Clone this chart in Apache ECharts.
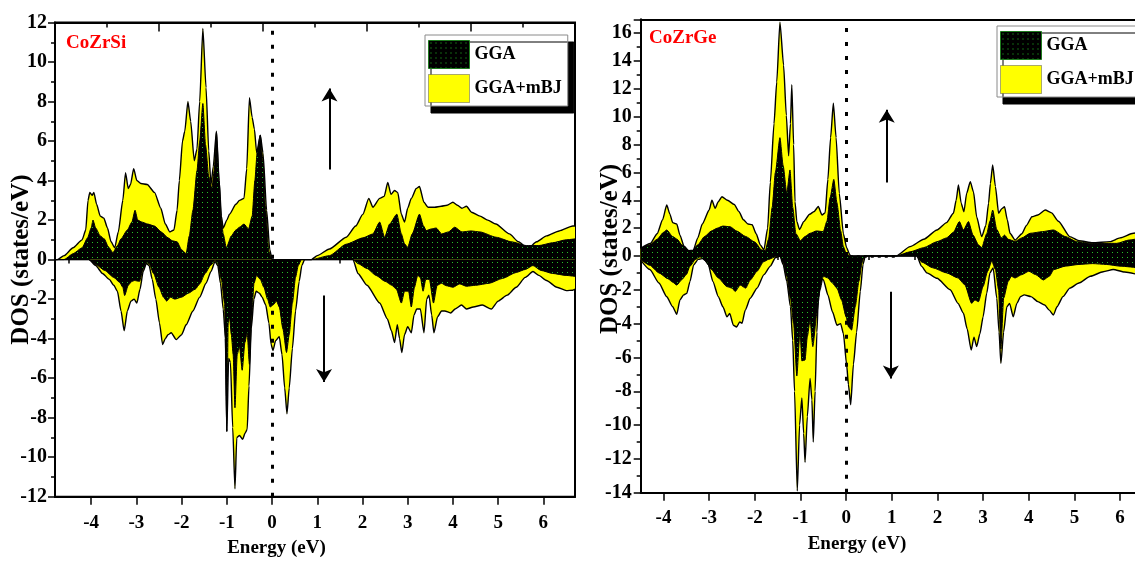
<!DOCTYPE html>
<html>
<head>
<meta charset="utf-8">
<title>CoZrSi / CoZrGe spin-polarised DOS</title>
<script src="https://cdn.jsdelivr.net/npm/echarts@6/dist/echarts.min.js"></script>
<style>
  html, body { margin: 0; padding: 0; background: #fff; }
  #chart { width: 1135px; height: 562px; }
</style>
</head>
<body>
<div id="chart"></div>
<script>
// ---------------- data ----------------
const materials = ['CoZrSi', 'CoZrGe'];
const methods = ['GGA', 'GGA+mBJ'];

const energyTicks = [-4, -3, -2, -1, 0, 1, 2, 3, 4, 5, 6];
const energyMinorSi = [-4.5, -3.5, -2.5, -1.5, -0.5, 0.5, 1.5, 2.5, 3.5, 4.5, 5.5, 6.5];
const energyMinorGe = [-3.5, -2.5, -1.5, -0.5, 0.5, 1.5, 2.5, 3.5, 4.5, 5.5];

// CoZrSi, spin up  [energy (eV), DOS (states/eV)]
const siUpMBJ = [[-4.8,0],[-4.75,0],[-4.6,0.2],[-4.4,0.6],[-4.2,1.0],[-4.12,1.5],[-4.07,3.0],[-4.03,3.4],[-3.98,3.25],[-3.94,3.4],[-3.88,2.8],[-3.8,2.2],[-3.72,2.1],[-3.64,1.6],[-3.56,0.9],[-3.48,0.6],[-3.4,1.4],[-3.3,3.0],[-3.24,4.4],[-3.18,3.6],[-3.13,3.8],[-3.06,4.6],[-2.99,4.0],[-2.9,3.85],[-2.76,3.8],[-2.6,3.4],[-2.46,2.6],[-2.36,1.8],[-2.26,1.4],[-2.17,1.5],[-2.1,2.5],[-2.05,4.0],[-1.98,6.0],[-1.93,6.5],[-1.86,8.0],[-1.8,7.0],[-1.72,5.0],[-1.66,5.6],[-1.6,8.0],[-1.53,11.7],[-1.46,8.7],[-1.4,5.5],[-1.35,3.8],[-1.3,4.7],[-1.23,6.5],[-1.17,4.0],[-1.12,2.2],[-1.08,1.6],[-1.0,2.0],[-0.94,2.3],[-0.8,2.8],[-0.72,3.0],[-0.62,3.1],[-0.56,4.6],[-0.5,8.2],[-0.44,7.2],[-0.39,6.6],[-0.34,5.4],[-0.26,6.3],[-0.2,5.4],[-0.12,2.5],[-0.05,0.5],[0,0],[0.87,0],[1.0,0.2],[1.27,0.54],[1.64,1.13],[1.85,1.7],[2.01,2.3],[2.14,3.1],[2.23,2.65],[2.38,3.1],[2.48,3.2],[2.56,3.9],[2.63,3.3],[2.71,3.5],[2.78,3.4],[2.86,2.3],[2.93,1.9],[3.0,2.6],[3.08,3.1],[3.19,3.6],[3.26,3.7],[3.36,2.9],[3.45,2.65],[3.6,2.65],[3.74,2.7],[3.87,2.75],[4.0,2.9],[4.1,2.75],[4.2,2.6],[4.3,2.7],[4.41,2.4],[4.6,2.2],[4.77,2.0],[4.95,1.8],[5.25,1.3],[5.45,0.9],[5.66,0.55],[5.85,0.9],[6.07,1.2],[6.35,1.45],[6.65,1.7],[6.7,1.7]];
const siUpGGA = [[-4.8,0],[-4.6,0],[-4.4,0.3],[-4.2,0.6],[-4.08,1.1],[-4.0,1.6],[-3.96,2.0],[-3.9,1.6],[-3.8,1.2],[-3.71,1.05],[-3.62,0.65],[-3.52,0.35],[-3.42,0.7],[-3.34,1.05],[-3.2,1.5],[-3.1,1.9],[-3.03,2.5],[-2.97,2.0],[-2.88,1.9],[-2.75,1.8],[-2.6,1.7],[-2.45,1.4],[-2.3,1.1],[-2.2,0.95],[-2.1,0.9],[-2.0,0.5],[-1.9,0.3],[-1.83,1.2],[-1.75,2.5],[-1.66,4.5],[-1.6,6.0],[-1.53,7.9],[-1.47,5.8],[-1.4,4.2],[-1.33,3.6],[-1.28,4.5],[-1.23,6.45],[-1.17,4.0],[-1.12,2.0],[-1.08,1.3],[-1.01,0.6],[-0.9,1.2],[-0.8,1.5],[-0.72,1.64],[-0.62,1.8],[-0.52,1.55],[-0.44,2.2],[-0.38,4.0],[-0.33,5.4],[-0.26,6.3],[-0.2,5.0],[-0.14,2.5],[-0.07,0.4],[0,0],[0.87,0],[1.27,0.2],[1.64,0.78],[2.01,1.1],[2.23,1.3],[2.38,1.9],[2.49,1.13],[2.6,1.8],[2.76,2.3],[2.86,1.3],[2.93,0.8],[3.0,0.62],[3.1,1.3],[3.26,2.3],[3.35,1.7],[3.41,1.47],[3.52,1.55],[3.63,1.6],[3.75,1.3],[3.9,1.4],[4.04,1.64],[4.2,1.4],[4.4,1.45],[4.6,1.4],[4.96,1.13],[5.3,0.9],[5.62,0.71],[5.9,0.71],[6.2,0.85],[6.5,1.0],[6.7,1.05]];

// CoZrSi, spin down
const siDownMBJ = [[-4.8,0],[-4.05,0],[-3.9,-0.3],[-3.75,-0.7],[-3.6,-1.0],[-3.5,-1.3],[-3.42,-1.6],[-3.34,-2.6],[-3.27,-3.6],[-3.2,-2.6],[-3.12,-2.1],[-3.05,-2.0],[-2.99,-2.2],[-2.92,-1.5],[-2.85,-0.6],[-2.78,-0.2],[-2.72,-0.3],[-2.65,-1.0],[-2.57,-2.0],[-2.49,-3.2],[-2.42,-4.3],[-2.36,-4.0],[-2.3,-3.8],[-2.23,-3.7],[-2.12,-4.05],[-2.0,-3.8],[-1.9,-3.3],[-1.75,-2.6],[-1.6,-1.9],[-1.46,-1.2],[-1.35,-0.6],[-1.26,-0.1],[-1.2,-0.3],[-1.14,-1.2],[-1.08,-2.5],[-1.03,-4.0],[-1.0,-8.7],[-0.96,-5.0],[-0.92,-5.2],[-0.87,-8.5],[-0.82,-11.6],[-0.78,-9.0],[-0.72,-8.9],[-0.65,-9.1],[-0.6,-8.8],[-0.55,-8.6],[-0.51,-6.4],[-0.46,-3.5],[-0.4,-2.0],[-0.35,-1.6],[-0.28,-1.7],[-0.22,-1.9],[-0.14,-2.3],[-0.07,-3.2],[-0.02,-4.3],[0.02,-4.6],[0.08,-4.1],[0.16,-3.9],[0.22,-4.8],[0.28,-6.5],[0.33,-7.8],[0.38,-6.5],[0.45,-4.5],[0.52,-2.6],[0.6,-1.1],[0.66,-0.3],[0.72,0],[1.79,0],[1.9,-0.7],[2.1,-1.3],[2.38,-2.2],[2.55,-3.0],[2.64,-3.6],[2.71,-4.2],[2.77,-3.3],[2.82,-4.0],[2.87,-4.7],[2.93,-3.8],[3.0,-3.4],[3.08,-3.7],[3.14,-2.8],[3.2,-2.5],[3.28,-2.5],[3.36,-3.7],[3.42,-2.0],[3.47,-1.8],[3.53,-2.8],[3.58,-3.7],[3.66,-2.9],[3.75,-2.6],[3.82,-2.6],[3.95,-2.7],[4.05,-2.5],[4.19,-2.3],[4.3,-2.5],[4.45,-2.4],[4.65,-2.3],[4.85,-2.5],[5.0,-2.1],[5.2,-1.8],[5.4,-1.4],[5.6,-0.9],[5.77,-0.6],[5.9,-0.8],[6.07,-1.06],[6.3,-1.4],[6.51,-1.57],[6.65,-1.55],[6.7,-1.5]];
const siDownGGA = [[-4.8,0],[-4.05,0],[-3.9,-0.25],[-3.7,-0.55],[-3.5,-0.9],[-3.37,-1.15],[-3.3,-1.4],[-3.26,-1.82],[-3.18,-1.3],[-3.1,-1.1],[-3.04,-1.06],[-2.93,-1.1],[-2.85,-0.5],[-2.78,-0.15],[-2.72,-0.2],[-2.62,-0.7],[-2.5,-1.4],[-2.4,-1.9],[-2.33,-2.1],[-2.25,-1.9],[-2.15,-2.0],[-2.0,-1.9],[-1.85,-1.7],[-1.7,-1.5],[-1.6,-1.23],[-1.48,-0.7],[-1.36,-0.3],[-1.26,-0.05],[-1.2,-0.2],[-1.12,-1.0],[-1.05,-2.2],[-1.0,-8.7],[-0.97,-3.2],[-0.94,-2.9],[-0.9,-3.8],[-0.86,-4.8],[-0.82,-7.5],[-0.77,-4.8],[-0.72,-4.4],[-0.66,-5.6],[-0.6,-4.2],[-0.55,-3.7],[-0.5,-5.3],[-0.45,-3.0],[-0.4,-1.2],[-0.34,-0.8],[-0.26,-1.0],[-0.18,-1.4],[-0.1,-2.0],[-0.04,-2.4],[0.02,-2.3],[0.1,-2.1],[0.16,-2.4],[0.24,-3.5],[0.32,-4.7],[0.38,-3.8],[0.45,-2.2],[0.52,-0.9],[0.58,-0.3],[0.65,0],[1.79,0],[1.9,-0.2],[2.1,-0.45],[2.3,-0.8],[2.5,-1.1],[2.65,-1.3],[2.75,-1.5],[2.86,-2.2],[2.93,-1.6],[3.02,-1.6],[3.08,-2.4],[3.15,-1.4],[3.22,-0.8],[3.28,-0.9],[3.34,-1.6],[3.4,-1.0],[3.48,-1.0],[3.57,-2.2],[3.65,-1.3],[3.75,-1.2],[3.85,-1.32],[4.0,-1.4],[4.15,-1.23],[4.3,-1.35],[4.5,-1.3],[4.8,-1.2],[5.1,-0.95],[5.4,-0.65],[5.6,-0.5],[5.77,-0.3],[5.95,-0.55],[6.2,-0.7],[6.5,-0.8],[6.7,-0.85]];

// CoZrGe, spin up
const geUpMBJ = [[-4.5,0.55],[-4.29,0.9],[-4.14,1.6],[-4.02,2.6],[-3.93,3.66],[-3.86,3.0],[-3.8,2.4],[-3.71,2.3],[-3.64,1.5],[-3.55,0.7],[-3.45,0.38],[-3.35,0.4],[-3.25,1.3],[-3.15,2.3],[-3.0,3.3],[-2.94,4.0],[-2.87,3.43],[-2.8,3.9],[-2.72,4.26],[-2.6,4.0],[-2.45,3.7],[-2.35,3.2],[-2.25,2.6],[-2.15,2.3],[-2.06,2.25],[-1.97,1.6],[-1.88,0.8],[-1.8,0.45],[-1.72,2.0],[-1.66,5.3],[-1.58,9.5],[-1.52,12.5],[-1.45,16.8],[-1.37,13.7],[-1.31,10.1],[-1.26,7.2],[-1.22,9.5],[-1.19,12.3],[-1.15,8.0],[-1.12,3.9],[-1.08,2.47],[-1.02,1.9],[-0.93,2.47],[-0.8,3.0],[-0.7,3.2],[-0.61,3.55],[-0.53,2.95],[-0.46,3.1],[-0.4,5.5],[-0.34,8.5],[-0.28,10.97],[-0.22,8.5],[-0.15,4.5],[-0.06,1.6],[0.01,0.6],[0.08,0.1],[0.1,0],[1.1,0],[1.4,0.67],[1.7,1.2],[1.99,1.87],[2.2,2.4],[2.35,3.07],[2.41,4.0],[2.46,5.1],[2.52,3.8],[2.58,3.18],[2.64,4.5],[2.72,5.34],[2.79,4.6],[2.86,2.8],[2.97,1.39],[3.06,2.2],[3.12,3.8],[3.16,5.2],[3.21,6.54],[3.27,5.0],[3.34,3.07],[3.41,3.4],[3.47,3.54],[3.53,2.6],[3.59,1.63],[3.7,1.15],[3.85,1.6],[3.95,2.2],[4.07,2.82],[4.2,2.95],[4.36,3.3],[4.5,3.1],[4.65,2.5],[4.9,1.39],[5.1,1.1],[5.4,0.95],[5.78,1.03],[6.0,1.3],[6.29,1.63],[6.4,1.7]];
const geUpGGA = [[-4.5,0.55],[-4.3,0.8],[-4.14,1.2],[-4.0,1.7],[-3.93,1.87],[-3.8,1.4],[-3.7,1.2],[-3.6,0.8],[-3.45,0.4],[-3.38,0.35],[-3.25,0.8],[-3.1,1.4],[-2.95,1.8],[-2.83,1.99],[-2.7,2.15],[-2.54,2.1],[-2.4,1.8],[-2.2,1.4],[-2.0,1.0],[-1.85,0.43],[-1.77,0.38],[-1.7,1.2],[-1.62,3.5],[-1.55,6.0],[-1.45,8.5],[-1.38,6.5],[-1.3,4.5],[-1.23,6.18],[-1.17,3.5],[-1.1,1.6],[-1.0,1.1],[-0.9,1.4],[-0.79,1.63],[-0.65,1.8],[-0.5,1.75],[-0.42,2.5],[-0.35,4.2],[-0.27,5.5],[-0.2,3.8],[-0.12,1.8],[-0.06,0.67],[0.0,0.2],[0.08,0],[1.1,0],[1.4,0.3],[1.7,0.6],[1.99,1.03],[2.2,1.3],[2.35,1.7],[2.48,2.47],[2.57,1.87],[2.68,2.47],[2.78,1.5],[2.9,0.79],[2.97,0.6],[3.08,1.6],[3.15,2.5],[3.21,3.3],[3.3,1.9],[3.4,1.3],[3.47,1.5],[3.55,1.2],[3.7,1.05],[3.85,1.3],[4.03,1.63],[4.3,1.75],[4.54,1.87],[4.8,1.4],[5.05,1.03],[5.4,0.9],[5.93,0.91],[6.2,1.15],[6.4,1.25]];

// CoZrGe, spin down
const geDownMBJ = [[-4.5,-0.24],[-4.3,-0.8],[-4.1,-1.6],[-3.93,-2.41],[-3.8,-3.0],[-3.71,-3.45],[-3.64,-2.6],[-3.56,-2.3],[-3.49,-2.21],[-3.42,-1.5],[-3.34,-0.53],[-3.24,-0.2],[-3.12,-0.14],[-3.02,-0.5],[-2.92,-1.5],[-2.8,-2.4],[-2.7,-3.0],[-2.61,-3.6],[-2.55,-3.4],[-2.47,-4.1],[-2.4,-4.2],[-2.33,-3.9],[-2.28,-3.98],[-2.21,-3.2],[-2.1,-2.5],[-1.95,-1.9],[-1.8,-1.1],[-1.66,-0.6],[-1.55,-0.1],[-1.45,0],[-1.38,-0.5],[-1.3,-1.5],[-1.22,-3.0],[-1.17,-5.0],[-1.13,-8.0],[-1.07,-13.9],[-1.02,-10.0],[-0.97,-8.4],[-0.93,-10.5],[-0.9,-12.2],[-0.85,-9.5],[-0.79,-7.24],[-0.75,-8.5],[-0.72,-11.0],[-0.68,-8.0],[-0.64,-4.5],[-0.61,-2.5],[-0.55,-1.4],[-0.5,-1.4],[-0.4,-2.3],[-0.3,-3.3],[-0.2,-4.1],[-0.12,-4.0],[-0.06,-4.6],[0.01,-6.4],[0.05,-7.6],[0.1,-8.8],[0.16,-6.4],[0.23,-4.5],[0.31,-2.1],[0.37,-0.5],[0.42,0],[1.55,0],[1.65,-0.6],[1.77,-1.0],[1.99,-1.32],[2.28,-2.0],[2.45,-2.8],[2.57,-3.39],[2.65,-4.3],[2.74,-5.56],[2.8,-4.8],[2.86,-5.36],[2.93,-4.6],[3.0,-3.6],[3.08,-2.2],[3.15,-1.0],[3.22,-0.7],[3.3,-2.5],[3.35,-4.5],[3.39,-6.35],[3.45,-4.5],[3.52,-3.0],[3.58,-2.8],[3.66,-3.59],[3.74,-2.8],[3.82,-2.4],[3.9,-2.3],[4.05,-2.4],[4.2,-2.7],[4.35,-2.9],[4.45,-3.2],[4.54,-3.49],[4.62,-3.0],[4.75,-2.4],[4.9,-1.9],[5.1,-1.6],[5.35,-1.2],[5.63,-0.93],[5.85,-0.8],[6.1,-0.95],[6.4,-1.1]];
const geDownGGA = [[-4.5,-0.2],[-4.3,-0.55],[-4.1,-1.0],[-3.9,-1.35],[-3.8,-1.55],[-3.71,-1.72],[-3.6,-1.4],[-3.5,-1.1],[-3.42,-0.6],[-3.3,-0.2],[-3.2,-0.05],[-3.08,-0.3],[-2.95,-0.8],[-2.8,-1.3],[-2.61,-1.81],[-2.5,-1.9],[-2.43,-2.1],[-2.32,-1.72],[-2.2,-1.9],[-2.1,-1.42],[-1.95,-0.9],[-1.81,-0.34],[-1.7,-0.2],[-1.55,-0.05],[-1.45,0],[-1.38,-0.4],[-1.3,-1.2],[-1.22,-2.5],[-1.15,-4.0],[-1.08,-7.1],[-1.01,-4.4],[-0.97,-6.2],[-0.9,-6.15],[-0.85,-4.77],[-0.79,-3.79],[-0.73,-5.36],[-0.64,-3.39],[-0.57,-2.0],[-0.5,-1.2],[-0.4,-1.3],[-0.3,-1.6],[-0.2,-1.91],[-0.1,-2.6],[0.0,-3.6],[0.05,-4.18],[0.12,-4.38],[0.2,-3.0],[0.28,-1.5],[0.35,-0.4],[0.4,0],[1.55,0],[1.65,-0.35],[1.9,-0.7],[2.2,-1.0],[2.45,-1.3],[2.6,-1.7],[2.75,-2.8],[2.82,-2.6],[2.9,-2.7],[3.0,-1.8],[3.1,-0.9],[3.19,-0.3],[3.27,-0.8],[3.34,-2.0],[3.39,-5.5],[3.45,-2.5],[3.55,-1.5],[3.62,-1.2],[3.7,-1.3],[3.85,-1.1],[4.0,-0.9],[4.15,-1.1],[4.32,-1.42],[4.45,-1.2],[4.55,-0.8],[4.8,-0.6],[5.1,-0.5],[5.4,-0.45],[5.7,-0.5],[6.0,-0.6],[6.4,-0.7]];

// ---------------- styling helpers ----------------
const SERIF = '"Liberation Serif", "Times New Roman", serif';
const boldText = (size, extra) => Object.assign({ fontFamily: SERIF, fontWeight: 'bold', fontSize: size, color: '#000' }, extra || {});
const BLACK_LINE = { color: '#000', width: 2 };

// black fill sprinkled with small green dots (GGA)
function dotPattern() {
  const c = document.createElement('canvas');
  c.width = 5; c.height = 5;
  const g = c.getContext('2d');
  g.fillStyle = '#000'; g.fillRect(0, 0, 5, 5);
  g.fillStyle = '#26c426'; g.fillRect(2, 2, 1, 1);
  return c;
}
const ggaFill = { image: dotPattern(), repeat: 'repeat' };
const mbjFill = '#ffff00';

function dosArea(name, data, xi, yi, fill, width, markLine) {
  const s = {
    type: 'line', name: name, data: data,
    xAxisIndex: xi, yAxisIndex: yi,
    symbol: 'none', showSymbol: false,
    smooth: 0.2, smoothMonotone: 'x',
    lineStyle: { color: '#000', width: width },
    itemStyle: { color: fill },
    areaStyle: { color: fill, opacity: 1 },
    emphasis: { disabled: true },
    animation: false
  };
  if (markLine) s.markLine = markLine;
  return s;
}

// Fermi level (E = 0) dotted marker
function fermiLine(extra) {
  return {
    silent: true, animation: false, symbol: 'none', label: { show: false },
    lineStyle: { color: '#000', width: 3, type: [4, 10] },
    emphasis: { disabled: true },
    data: [{ xAxis: 0 }].concat(extra || [])
  };
}
// spin direction arrows
function spinArrows(pairs) {
  return {
    silent: true, animation: false, symbol: ['none', 'arrow'], symbolSize: [12, 13],
    label: { show: false },
    lineStyle: { color: '#000', width: 2, type: 'solid' },
    emphasis: { disabled: true },
    data: pairs.map(p => [{ coord: p[0] }, { coord: p[1] }])
  };
}

// ---------------- axes ----------------
function energyAxis(grid, min, max, margin, namePad) {
  return {
    type: 'value', gridIndex: grid, position: 'bottom', min: min, max: max,
    axisLine: { onZero: false, lineStyle: BLACK_LINE },
    axisTick: { customValues: energyTicks, length: 8, lineStyle: { color: '#000', width: 1.5 } },
    axisLabel: Object.assign({ customValues: energyTicks, margin: margin }, boldText(19)),
    splitLine: { show: false },
    name: 'Energy (eV)', nameLocation: 'middle', nameGap: 42,
    nameTextStyle: boldText(19, { padding: [0, namePad, 0, 0] })
  };
}
function minorEnergyAxis(grid, min, max, values) {
  return {
    type: 'value', gridIndex: grid, position: 'bottom', min: min, max: max,
    axisLine: { show: false },
    axisTick: { customValues: values, length: 4, lineStyle: { color: '#000', width: 1.5 } },
    axisLabel: { show: false }, splitLine: { show: false }
  };
}
function dosAxis(grid, min, max, extra) {
  return Object.assign({
    type: 'value', gridIndex: grid, min: min, max: max, interval: 2,
    axisLine: { onZero: false, lineStyle: BLACK_LINE },
    axisTick: { length: 7, lineStyle: { color: '#000', width: 1.5 } },
    minorTick: { show: true, splitNumber: 2, length: 4, lineStyle: { color: '#000', width: 1.5 } },
    axisLabel: boldText(20, { margin: 8 }),
    splitLine: { show: false }, minorSplitLine: { show: false }
  }, extra || {});
}

const legendItems = [
  { name: methods[0], itemStyle: { color: ggaFill, borderColor: '#1e7a1e', borderWidth: 1 } },
  { name: methods[1], itemStyle: { color: mbjFill, borderColor: '#555', borderWidth: 1, borderType: 'dotted' } }
];
function legendBox(left, top) {
  return {
    left: left, top: top, orient: 'vertical', icon: 'rect',
    itemWidth: 41, itemHeight: 28, itemGap: 5,
    padding: [5, 6, 3, 3],
    backgroundColor: '#fff', borderColor: '#8a8a8a', borderWidth: 1,
    shadowColor: '#000', shadowBlur: 0, shadowOffsetX: 6, shadowOffsetY: 7,
    textStyle: boldText(18), selectedMode: false,
    data: legendItems
  };
}

const option = {
  backgroundColor: '#fff',
  animation: false,
  title: [
    { text: materials[0], left: 66, top: 34, padding: 0, textStyle: boldText(19, { color: '#ff0000' }) },
    { text: materials[1], left: 649, top: 29, padding: 0, textStyle: boldText(19, { color: '#ff0000' }) }
  ],
  legend: [legendBox(425, 35), legendBox(997, 26)],
  grid: [
    { left: 55, top: 22.5, width: 520, height: 474.2, show: true, borderColor: '#000', borderWidth: 2, containLabel: false, outerBoundsMode: 'none' },
    { left: 640.7, top: 19.3, width: 497.6, height: 236.7, containLabel: false, outerBoundsMode: 'none' },
    { left: 640.7, top: 256, width: 497.6, height: 236.7, containLabel: false, outerBoundsMode: 'none' }
  ],
  xAxis: [
    energyAxis(0, -4.8, 6.7, 17, 77),
    minorEnergyAxis(0, -4.8, 6.7, energyMinorSi),
    { // frame ticks along the top edge of the left panel
      type: 'value', gridIndex: 0, position: 'top', min: 0, max: 10, interval: 2,
      axisLine: { onZero: false, lineStyle: BLACK_LINE },
      axisTick: { inside: true, length: 9, lineStyle: { color: '#000', width: 1.5 } },
      minorTick: { show: true, splitNumber: 2, length: 5, lineStyle: { color: '#000', width: 1.5 } },
      axisLabel: { show: false }, splitLine: { show: false }, minorSplitLine: { show: false }
    },
    {
      type: 'value', gridIndex: 1, position: 'top', min: -4.5, max: 6.4,
      axisLine: { onZero: false, lineStyle: BLACK_LINE },
      axisTick: { show: false }, axisLabel: { show: false }, splitLine: { show: false }
    },
    energyAxis(2, -4.5, 6.4, 15.5, 65),
    minorEnergyAxis(2, -4.5, 6.4, energyMinorGe)
  ],
  yAxis: [
    dosAxis(0, -12, 12, {
      name: 'DOS (states/eV)', nameLocation: 'middle', nameGap: 21, nameMoveOverlap: false,
      nameTextStyle: boldText(25)
    }),
    dosAxis(1, 0, 17, { axisLabel: boldText(20, { margin: 9, showMaxLabel: false }) }),
    dosAxis(2, -14, 0, { axisLabel: boldText(20, { margin: 9, showMaxLabel: false }) })
  ],
  graphic: [{
    type: 'text', x: 611, y: 249, rotation: Math.PI / 2, silent: true,
    style: { text: 'DOS (states/eV)', font: 'bold 25px ' + SERIF, fill: '#000', align: 'center', verticalAlign: 'middle' }
  }],
  series: [
    // CoZrSi
    dosArea(methods[1], siUpMBJ, 0, 0, mbjFill, 1.4, fermiLine()),
    dosArea(methods[1], siDownMBJ, 0, 0, mbjFill, 1.4),
    dosArea(methods[0], siUpGGA, 0, 0, ggaFill, 1, spinArrows([[[1.27, 4.56], [1.27, 8.66]], [[1.15, -1.82], [1.15, -6.2]]])),
    dosArea(methods[0], siDownGGA, 0, 0, ggaFill, 1),
    // CoZrGe
    dosArea(methods[1], geUpMBJ, 3, 1, mbjFill, 1.4, fermiLine([[
      { coord: [0.08, 0], lineStyle: { color: '#000', width: 2.5, type: [3, 4] } },
      { coord: [1.1, 0] }
    ]])),
    dosArea(methods[1], geDownMBJ, 4, 2, mbjFill, 1.4, fermiLine()),
    dosArea(methods[0], geUpGGA, 3, 1, ggaFill, 1, spinArrows([[[0.89, 5.27], [0.89, 10.5]]])),
    dosArea(methods[0], geDownGGA, 4, 2, ggaFill, 1, spinArrows([[[0.98, -2.11], [0.98, -7.24]]]))
  ]
};

const chart = echarts.init(document.getElementById('chart'), null, { renderer: 'canvas' });
chart.setOption(option);
</script>
</body>
</html>
